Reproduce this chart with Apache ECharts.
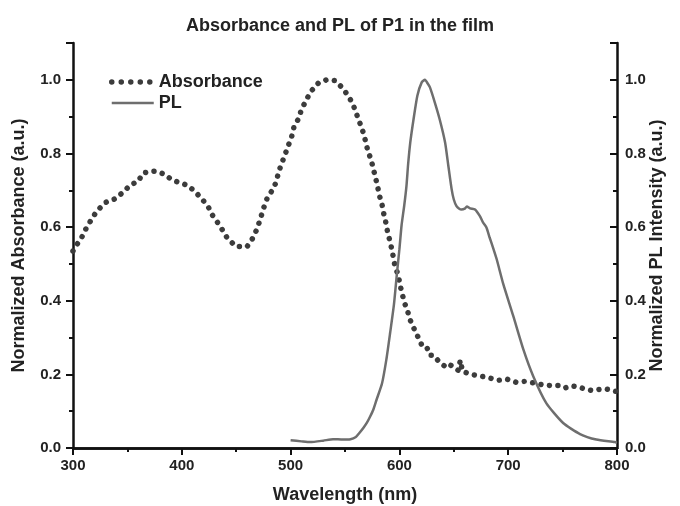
<!DOCTYPE html>
<html>
<head>
<meta charset="utf-8">
<script src="https://cdn.jsdelivr.net/npm/echarts@6/dist/echarts.min.js"></script>
<style>
html, body { margin: 0; padding: 0; background: #fff; }
#main { width: 680px; height: 506px; }
</style>
</head>
<body>
<div id="main"></div>
<script>
// 数据
var absX = [300, 303, 308, 312, 317, 322, 330, 338, 345, 353, 360, 364, 370, 376, 384, 391, 398, 405, 412, 418,
	424, 428, 433, 438, 442, 450, 460, 465, 469, 472, 475, 479, 484, 487, 489, 492, 495, 498, 501, 503,
	507, 510, 514, 518.5, 525.5, 533, 541, 548, 554, 558, 561, 564, 567, 569, 571, 574, 576, 578, 580, 581.5,
	584, 585.5, 587.5, 589, 591, 593, 594.5, 596, 599, 600.5, 602.5, 604.5, 607.5, 610, 613.5, 617.5, 621, 625, 628, 631,
	637, 643.5, 647, 651, 654, 656, 658, 666, 675, 683, 691, 699, 707, 715, 723, 731, 738, 746, 752, 758,
	764, 771, 777, 783, 789, 796, 800];
var absY = [0.535, 0.55, 0.572, 0.596, 0.621, 0.644, 0.667, 0.676, 0.692, 0.715, 0.724, 0.746, 0.751, 0.752, 0.744, 0.728, 0.721, 0.714, 0.697, 0.678,
	0.657, 0.633, 0.612, 0.589, 0.569, 0.547, 0.547, 0.569, 0.594, 0.62, 0.65, 0.683, 0.703, 0.725, 0.75, 0.774, 0.798, 0.822, 0.846, 0.871,
	0.893, 0.919, 0.943, 0.968, 0.991, 1.0, 0.998, 0.977, 0.952, 0.928, 0.904, 0.88, 0.855, 0.832, 0.807, 0.783, 0.759, 0.735, 0.71, 0.687,
	0.662, 0.638, 0.613, 0.589, 0.565, 0.54, 0.517, 0.493, 0.469, 0.444, 0.42, 0.396, 0.372, 0.347, 0.324, 0.299, 0.277, 0.275, 0.252, 0.252,
	0.233, 0.218, 0.225, 0.218, 0.211, 0.238, 0.208, 0.2, 0.195, 0.19, 0.184, 0.187, 0.179, 0.181, 0.177, 0.172, 0.17, 0.17, 0.163, 0.169,
	0.166, 0.16, 0.156, 0.159, 0.161, 0.156, 0.153];

var plX = [500, 510, 518, 530, 539, 548, 555, 560, 563, 567, 570, 573, 576, 579, 584, 588, 591.5, 595, 597.5, 600,
	602, 604.5, 606.5, 608, 610, 613, 616.5, 620.5, 623.5, 626, 628, 632.5, 637, 642, 645, 648, 650, 652.5, 655, 657,
	660, 662, 665, 669.5, 674, 677, 680, 683, 686.5, 689.5, 695.5, 704.7, 714, 723, 735, 750.5, 766, 781, 798, 800];
var plY = [0.021, 0.018, 0.016, 0.02, 0.024, 0.023, 0.024, 0.03, 0.04, 0.055, 0.068, 0.085, 0.104, 0.131, 0.175, 0.24, 0.313, 0.39, 0.467, 0.54,
	0.605, 0.66, 0.712, 0.77, 0.83, 0.893, 0.957, 0.993, 1.0, 0.99, 0.98, 0.939, 0.893, 0.83, 0.766, 0.703, 0.675, 0.657, 0.65, 0.648,
	0.65, 0.656, 0.651, 0.648, 0.63, 0.612, 0.599, 0.571, 0.54, 0.512, 0.445, 0.358, 0.267, 0.195, 0.122, 0.068, 0.038, 0.023, 0.016, 0.014];

var xTicks = [300, 400, 500, 600, 700, 800];
var yTicks = [0.0, 0.2, 0.4, 0.6, 0.8, 1.0];

var textColor = '#222';
var fontFam = '"Liberation Sans", Arial, sans-serif';
var absColor = '#3c3c3c';
var plColor = '#6e6e6e';
var absDash = [0.01, 8.5];

function pairs(xs, ys) {
	var out = [];
	for (var i = 0; i < xs.length; i++) {
		out.push([xs[i], ys[i]]);
	}
	return out;
}

function yLabel(v) {
	// 只显示 0.0 ~ 1.0
	for (var i = 0; i < yTicks.length; i++) {
		if (Math.abs(yTicks[i] - v) < 1e-6) return v.toFixed(1);
	}
	return '';
}

function yAxisOpt(pos, name, inside, gap, margin) {
	return {
		type: 'value',
		position: pos,
		min: 0,
		max: 1.1,
		interval: 0.2,
		name: name,
		nameLocation: 'middle',
		nameGap: gap,
		nameMoveOverlap: false,
		nameTextStyle: { fontSize: 18, fontWeight: 'bold', color: textColor, fontFamily: fontFam },
		axisLine: { show: true, lineStyle: { color: '#111', width: 2.5 } },
		axisTick: { show: true, inside: inside, length: 7, lineStyle: { width: 2, color: '#111' } },
		minorTick: { show: true, splitNumber: 2, length: 4, lineStyle: { width: 2, color: '#111' } },
		axisLabel: { formatter: yLabel, fontSize: 15, fontWeight: 'bold', color: textColor, fontFamily: fontFam, margin: margin, showMaxLabel: false },
		splitLine: { show: false }
	};
}

var chart = echarts.init(document.getElementById('main'), null, { renderer: 'canvas' });

var option = {
	animation: false,
	backgroundColor: '#fff',
	title: {
		text: 'Absorbance and PL of P1 in the film',
		left: 'center',
		top: 12,
		textStyle: { fontSize: 18, fontWeight: 'bold', color: textColor, fontFamily: fontFam }
	},
	legend: {
		orient: 'vertical',
		left: 104,
		top: 68,
		itemWidth: 42,
		itemHeight: 12,
		itemGap: 3,
		itemStyle: { opacity: 0 },
		textStyle: { fontSize: 18, fontWeight: 'bold', color: textColor, fontFamily: fontFam },
		data: [
			{ name: 'Absorbance', lineStyle: { width: 5.5, type: [0.01, 9.5], cap: 'round', color: absColor } },
			{ name: 'PL', lineStyle: { width: 2.5, color: plColor } }
		]
	},
	grid: {
		left: 73,
		right: 63,
		top: 43,
		bottom: 58,
		outerBoundsMode: 'none'
	},
	xAxis: [{
		type: 'value',
		position: 'bottom',
		min: 300,
		max: 800,
		interval: 100,
		name: 'Wavelength (nm)',
		nameLocation: 'middle',
		nameGap: 38,
		nameTextStyle: { fontSize: 18, fontWeight: 'bold', color: textColor, fontFamily: fontFam },
		axisLine: { show: true, lineStyle: { color: '#111', width: 2.5 } },
		axisTick: { show: true, inside: false, length: 7, lineStyle: { width: 2, color: '#111' } },
		minorTick: { show: true, splitNumber: 2, length: 4, lineStyle: { width: 2, color: '#111' } },
		axisLabel: { fontSize: 15, fontWeight: 'bold', color: textColor, fontFamily: fontFam, margin: 10 },
		splitLine: { show: false }
	}, {
		type: 'value',
		position: 'top',
		min: 300,
		max: 800,
		interval: 100,
		axisLine: { show: true, lineStyle: { color: '#111', width: 2.5 } },
		axisTick: { show: true, inside: true, length: 7, lineStyle: { width: 2, color: '#111' } },
		minorTick: { show: true, splitNumber: 2, length: 4, lineStyle: { width: 2, color: '#111' } },
		axisLabel: { show: false },
		splitLine: { show: false }
	}],
	yAxis: [
		yAxisOpt('left', 'Normalized Absorbance (a.u.)', false, 45, 12),
		yAxisOpt('right', 'Normalized PL Intensity (a.u.)', true, 31, 8)
	],
	series: [{
		name: 'Absorbance',
		type: 'line',
		xAxisIndex: 0,
		yAxisIndex: 0,
		symbol: 'none',
		data: pairs(absX, absY),
		itemStyle: { color: absColor },
		lineStyle: { color: absColor, width: 5.5, type: absDash, cap: 'round' }
	}, {
		name: 'PL',
		type: 'line',
		xAxisIndex: 0,
		yAxisIndex: 1,
		symbol: 'none',
		smooth: 0.2,
		data: pairs(plX, plY),
		itemStyle: { color: plColor },
		lineStyle: { color: plColor, width: 2.5 }
	}]
};

chart.setOption(option, true);
</script>
</body>
</html>
